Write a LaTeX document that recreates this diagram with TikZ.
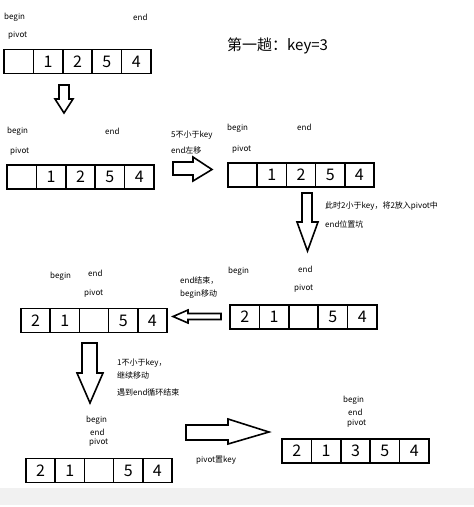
\documentclass[tikz,border=0pt]{standalone}
\usepackage{fontspec}
\setmainfont{Noto Sans CJK SC}
\definecolor{band}{HTML}{F1F1F1}

\begin{document}
\begin{tikzpicture}[x=1pt,y=-1pt,
  cell/.style={draw,line width=1.5pt,minimum width=29.4pt,minimum height=24pt,inner sep=0pt,font=\fontsize{16}{19}\selectfont},
  tag/.style={anchor=west,inner sep=0pt,font=\fontsize{8}{9.6}\selectfont},
  fat/.style={draw,line width=1.6pt,fill=white,line join=miter}
]
\useasboundingbox (0,0) rectangle (474,507);
\fill[band] (0,488) rectangle (474,505);

\node[anchor=west,inner sep=0pt,font=\fontsize{15}{18}\selectfont] (title) at (227,46) {第一趟：key=3};

% row 1
\foreach \v [count=\i] in {{},1,2,5,4}
  \node[cell] (ra\i) at ({4+29.4*\i-14.7},61.5) {\v};
\node[tag] (abeg) at (4,17) {begin};
\node[tag] (aend) at (133,17) {end};
\node[tag] (apiv) at (8,35) {pivot};
\draw[fat] (59,85) -- (69,85) -- (69,99) -- (73,99) -- (64,113) -- (55,99) -- (59,99) -- cycle;

% row 2, left
\foreach \v [count=\i] in {{},1,2,5,4}
  \node[cell] (rb\i) at ({7+29.4*\i-14.7},177) {\v};
\node[tag] (bbeg) at (7,131) {begin};
\node[tag] (bend) at (105,131) {end};
\node[tag] (bpiv) at (10,151) {pivot};
\node[tag] (note1a) at (171,135) {5不小于key};
\node[tag] (note1b) at (171,150) {end左移};
\draw[fat] (173,162) -- (193,162) -- (193,157) -- (212,169.5) -- (193,181) -- (193,175) -- (173,175) -- cycle;

% row 2, right
\foreach \v [count=\i] in {{},1,2,5,4}
  \node[cell] (rc\i) at ({228+29.2*\i-14.6},175) {\v};
\node[tag] (cbeg) at (227,128) {begin};
\node[tag] (cend) at (297,127) {end};
\node[tag] (cpiv) at (232,149) {pivot};
\node[tag] (note2a) at (325,206) {此时2小于key，将2放入pivot中};
\node[tag] (note2b) at (325,224) {end位置坑};
\draw[fat] (302,193) -- (312,193) -- (312,222) -- (318,222) -- (307.5,251) -- (297,222) -- (302,222) -- cycle;

% row 3, right
\foreach \v [count=\i] in {2,1,{},5,4}
  \node[cell] (rd\i) at ({230+29.4*\i-14.7},317) {\v};
\node[tag] (dbeg) at (228,271) {begin};
\node[tag] (dend) at (298,269) {end};
\node[tag] (dpiv) at (294,288) {pivot};
\node[tag] (note3a) at (180,281) {end结束，};
\node[tag] (note3b) at (180,294) {begin移动};
\draw[fat] (173,316.5) -- (188,310) -- (188,313.5) -- (221,313.5) -- (221,319.5) -- (188,319.5) -- (188,323) -- cycle;

% row 3, left
\foreach \v [count=\i] in {2,1,{},5,4}
  \node[cell] (re\i) at ({21+29.2*\i-14.6},320.5) {\v};
\node[tag] (ebeg) at (50,276) {begin};
\node[tag] (eend) at (88,273) {end};
\node[tag] (epiv) at (84,293) {pivot};
\node[tag] (note4a) at (117,363) {1不小于key，};
\node[tag] (note4b) at (117,375) {继续移动};
\node[tag] (note4c) at (117,392) {遇到end循环结束};
\draw[fat] (82,343) -- (97,343) -- (97,373) -- (103,373) -- (90,403) -- (77,373) -- (82,373) -- cycle;

% row 4
\foreach \v [count=\i] in {2,1,{},5,4}
  \node[cell] (rf\i) at ({26+29.2*\i-14.6},470.5) {\v};
\node[tag] (fbeg) at (86,420) {begin};
\node[tag] (fend) at (90,432) {end};
\node[tag] (fpiv) at (89,442) {pivot};
\node[tag] (note5) at (196,460) {pivot置key};
\draw[fat] (186,425) -- (228,425) -- (228,419) -- (269,432) -- (228,444) -- (228,440) -- (186,440) -- cycle;

\foreach \v [count=\i] in {2,1,3,5,4}
  \node[cell] (rg\i) at ({282+29.4*\i-14.7},451) {\v};
\node[tag] (gbeg) at (343,400) {begin};
\node[tag] (gend) at (348,412) {end};
\node[tag] (gpiv) at (347,423) {pivot};
\end{tikzpicture}
\end{document}
